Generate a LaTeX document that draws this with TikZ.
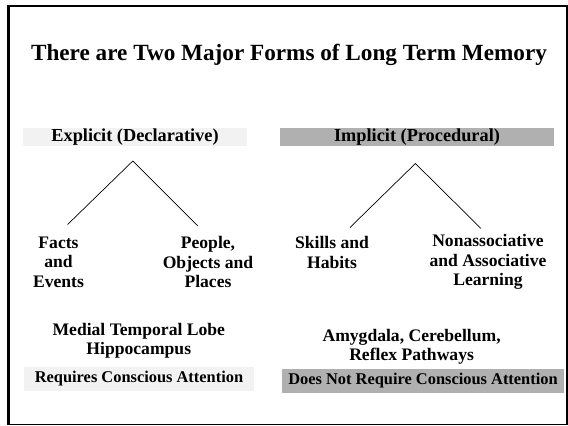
\documentclass[tikz,border=0pt]{standalone}
\usepackage{fontspec}
\setmainfont{Liberation Serif}
\definecolor{lightbox}{gray}{0.95}
\definecolor{darkbox}{gray}{0.69}

\begin{document}
\begin{tikzpicture}[x=1pt, y=-1pt, line width=0.7pt,
  title node/.style={font=\fontsize{23.2}{27}\selectfont\bfseries},
  head node/.style={inner sep=0pt, minimum height=18pt, font=\fontsize{18.3}{20}\selectfont\bfseries},
  item node/.style={align=center, inner sep=0pt, font=\fontsize{17.6}{19.4}\selectfont\bfseries},
  note node/.style={inner sep=0pt, minimum height=24pt, font=\fontsize{16.4}{19}\selectfont\bfseries}]
  \useasboundingbox (0,0) rectangle (568,426);
  % frame
  \draw[line width=1.6pt] (8.5,6) rectangle (567,424.5);
  \draw[line width=3pt] (8.5,5.2) -- (8.5,425.3);

  \node[title node] (title) at (289,55) {There are Two Major Forms of Long Term Memory};

  \node[head node, fill=lightbox, minimum width=224pt] (explicit) at (135,137) {Explicit (Declarative)};
  \node[head node, fill=darkbox, minimum width=274pt] (implicit) at (417,137) {Implicit (Procedural)};

  \node[item node] (facts) at (58.5,262) {Facts\\and\\Events};
  \node[item node] (people) at (208,262) {People,\\Objects and\\Places};
  \node[item node] (skills) at (332,252.5) {Skills and\\Habits};
  \node[item node] (learning) at (488,262) {Nonassociative\\and Associative\\Learning};

  \coordinate (ex top) at (132.8,161);
  \coordinate (ex left) at (67.6,224.5);
  \coordinate (ex right) at (198,226);
  \coordinate (im top) at (415.4,163.5);
  \coordinate (im left) at (350,227.5);
  \coordinate (im right) at (481,228.5);
  \draw (ex left) -- (ex top) -- (ex right);
  \draw (im left) -- (im top) -- (im right);

  \node[item node] (medial) at (138.8,340.5) {Medial Temporal Lobe\\Hippocampus};
  \node[item node] (amygdala) at (411.6,346.5) {Amygdala, Cerebellum,\\Reflex Pathways};

  \node[note node, fill=lightbox, minimum width=230pt] (conscious) at (139,379) {Requires Conscious Attention};
  \node[note node, fill=darkbox, minimum width=282pt] (unconscious) at (423,381) {Does Not Require Conscious Attention};
\end{tikzpicture}
\end{document}
